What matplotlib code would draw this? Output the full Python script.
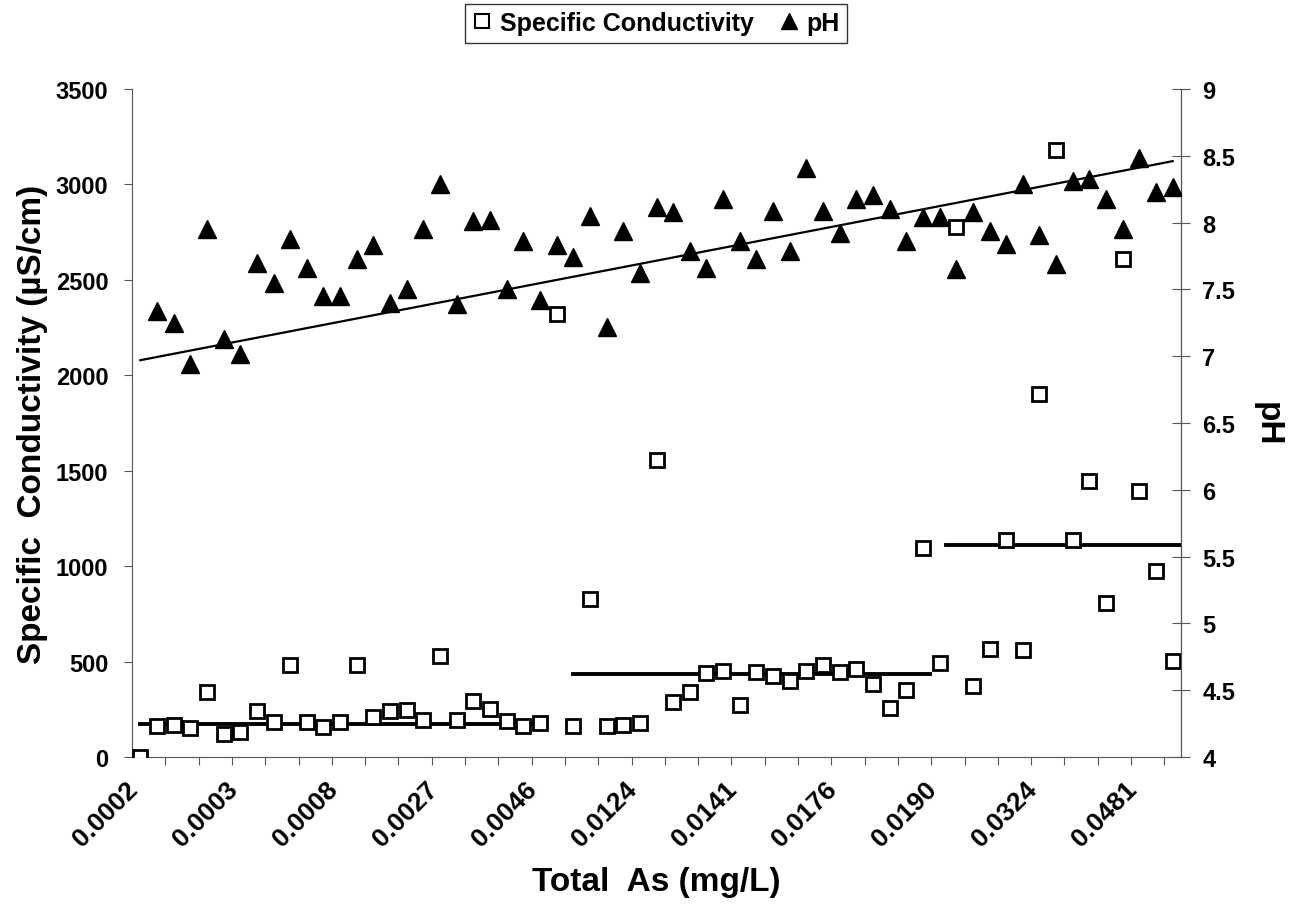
import numpy as np
import matplotlib.pyplot as plt
from matplotlib.lines import Line2D
from matplotlib.transforms import ScaledTranslation

plt.rcParams['font.family'] = ['Liberation Sans', 'DejaVu Sans']
plt.rcParams['font.weight'] = 'bold'

# category labels shown on the x axis (every 6th sample)
as_labels = ["0.0002", "0.0003", "0.0008", "0.0027", "0.0046", "0.0124",
             "0.0141", "0.0176", "0.0190", "0.0324", "0.0481"]
label_every = 6

# specific conductivity (uS/cm), one per sample
conductivity = [0, 160, 167, 153, 341, 122, 129, 240, 186, 482,
                183, 155, 186, 482, 207, 240, 244, 193, 529, 193,
                294, 254, 188, 164, 176, 2321, 164, 829, 164, 169,
                176, 1555, 287, 341, 442, 449, 275, 446, 423, 399,
                453, 482, 446, 463, 383, 258, 350, 1097, 493, 2777,
                371, 564, 1135, 559, 1903, 3183, 1139, 1445, 806, 2607,
                1393, 975, 505]

# pH, one per sample (first sample has no reading)
ph = [np.nan, 7.34, 7.25, 6.94, 7.95, 7.13, 7.02, 7.70, 7.55, 7.88,
      7.66, 7.45, 7.45, 7.73, 7.83, 7.40, 7.50, 7.95, 8.29, 7.39,
      8.01, 8.02, 7.50, 7.86, 7.42, 7.83, 7.74, 8.05, 7.22, 7.94,
      7.62, 8.12, 8.08, 7.79, 7.66, 8.18, 7.86, 7.73, 8.09, 7.79,
      8.41, 8.09, 7.92, 8.18, 8.21, 8.10, 7.86, 8.04, 8.04, 7.65,
      8.08, 7.94, 7.84, 8.29, 7.91, 7.69, 8.31, 8.33, 8.18, 7.95,
      8.48, 8.23, 8.27]

# pH trend line as drawn in the chart (value at first and last sample)
ph_trend = [6.97, 8.46]

# group mean conductivity lines: (first sample, last sample, level)
group_start = [0, 26, 48.4]
group_end = [24.2, 47.4, 62.5]
group_level = [174, 435, 1111]

n = len(conductivity)
x = np.arange(n)

fig = plt.figure(figsize=(12.94, 9.12), dpi=100)
ax = fig.add_axes([132/1294, 1-758/912, 1049/1294, 668/912])
ax2 = ax.twinx()

ax.plot(x, conductivity, ls='none', marker='s', ms=9.5, mfc='white',
        mec='black', mew=2, zorder=3)
for a, b, lvl in zip(group_start, group_end, group_level):
    ax.plot([a, b], [lvl, lvl], color='black', lw=2.8, zorder=2)

ax2.plot(x, ph, ls='none', marker='^', ms=12.5, color='black', zorder=3)
ax2.plot([x[0], x[-1]], ph_trend, color='black', lw=1.6, zorder=2)

ax.set_yticks(np.arange(0, 3501, 500))
ax2.set_yticks(np.arange(4, 9.01, 0.5))
ax2.set_yticklabels(['4', '4.5', '5', '5.5', '6', '6.5', '7', '7.5',
                     '8', '8.5', '9'])

# tick marks between every second category, labels every 6th category
ax.set_xticks(np.arange(1.5, n - 0.5, 2))
ax.set_xticklabels([])
ax.set_xticks(np.arange(0, n, label_every), minor=True)
ax.set_xticklabels(as_labels, minor=True, rotation=45, ha='right',
                   va='top', rotation_mode='anchor', fontsize=19)
ax.set_xlim(-0.5, n - 0.5)
ax.set_ylim(0, 3500)
ax2.set_ylim(4, 9)

ax.tick_params(axis='x', which='minor', length=0, pad=14)
ax.tick_params(axis='x', which='major', length=6, color='#555555',
               direction='out')
ax.tick_params(axis='y', length=6, color='#555555', labelsize=17, pad=11)
ax2.tick_params(axis='y', length=12.5, color='#555555', direction='inout',
                labelsize=17, pad=9)

ax.spines['top'].set_visible(False)
ax2.spines['top'].set_visible(False)
for s in ['left', 'bottom']:
    ax.spines[s].set_color('#555555')
ax2.spines['right'].set_color('#555555')
ax2.spines['left'].set_visible(False)
ax2.spines['bottom'].set_visible(False)

ax.set_xlabel('Total  As (mg/L)', fontsize=24, fontweight='bold')
ax.xaxis.set_label_coords(0.5, -0.187)
ax.xaxis.label.set_va('center')
ax.set_ylabel('Specific  Conductivity (\u00b5S/cm)', fontsize=24,
              fontweight='bold')
ax.yaxis.set_label_coords(-0.095, 0.5)
ax.yaxis.label.set_va('center')
ax2.set_ylabel('pH', fontsize=24, fontweight='bold', rotation=270)
ax2.yaxis.set_label_coords(1.082, 0.5)
ax2.yaxis.label.set_va('center')

handles = [Line2D([], [], ls='none', marker='s', ms=10, mfc='white',
                  mec='black', mew=1.5),
           Line2D([], [], ls='none', marker='^', ms=12, color='black')]
leg = fig.legend(handles, ['Specific Conductivity', 'pH'], ncol=2,
                 loc='upper center', bbox_to_anchor=(656/1294, 0.995),
                 fontsize=18, frameon=True, fancybox=False,
                 handlelength=0.8, handletextpad=0.3, columnspacing=1.0,
                 borderpad=0.3, borderaxespad=0)
leg.get_frame().set_edgecolor('black')
leg.get_frame().set_linewidth(1)

# nudge the rotated category labels left so their ends sit at the category
fig.canvas.draw()
shift = ScaledTranslation(-0.15, 0, fig.dpi_scale_trans)
for tick in ax.xaxis.get_minor_ticks():
    tick.label1.set_transform(tick.label1.get_transform() + shift)

fig.savefig('out.png', dpi=100)
